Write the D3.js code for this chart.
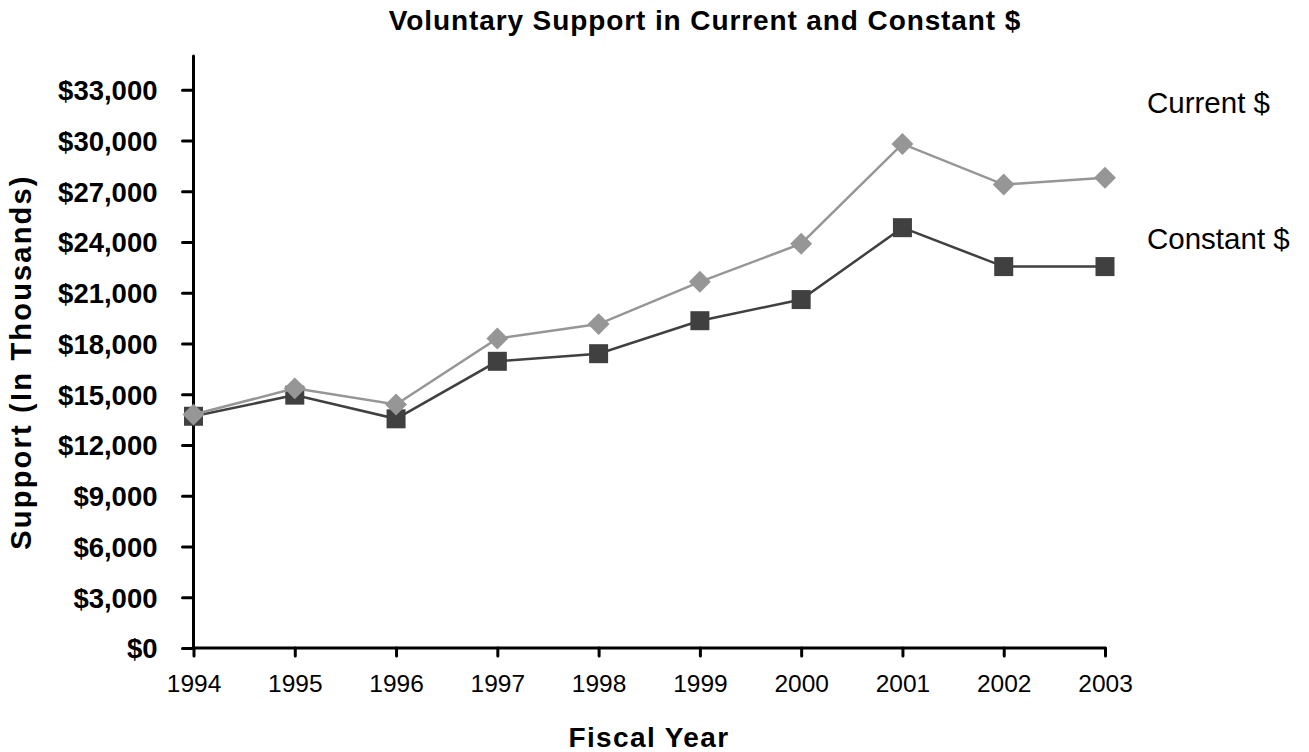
<!DOCTYPE html>
<html>
<head>
<meta charset="utf-8">
<script src="https://cdn.jsdelivr.net/npm/d3@7"></script>
<style>
  html, body { margin: 0; padding: 0; background: #fff; }
  svg { display: block; }
  text { font-family: "Liberation Sans", Arial, sans-serif; fill: #000; }
</style>
</head>
<body>
<svg id="chart" width="1309" height="752"></svg>
<script>
const years = [1994, 1995, 1996, 1997, 1998, 1999, 2000, 2001, 2002, 2003];
const currentDollars = [13800, 15350, 14400, 18300, 19150, 21650, 23900, 29800, 27400, 27800];
const constantDollars = [13700, 14950, 13550, 16950, 17400, 19350, 20600, 24850, 22550, 22550];
const yTicks = [0, 3000, 6000, 9000, 12000, 15000, 18000, 21000, 24000, 27000, 30000, 33000];
const seriesNames = ["Current $", "Constant $"];
const titleText = "Voluntary Support in Current and Constant $";
const xTitle = "Fiscal Year";
const yTitle = "Support (In Thousands)";

const svg = d3.select("#chart");
const x = d3.scaleLinear().domain([1994, 2003]).range([193.5, 1105]);
const y = d3.scaleLinear().domain([0, 35000]).range([648, 56]);

// Title
svg.append("text")
  .attr("x", 705).attr("y", 30)
  .attr("text-anchor", "middle")
  .style("font-size", "28px").style("font-weight", "bold").style("letter-spacing", "0.9px")
  .text(titleText);

// Y axis
const yAxis = svg.append("g").attr("transform", "translate(193.5,0)")
  .call(d3.axisLeft(y).tickValues(yTicks).tickSize(11).tickPadding(25)
    .tickFormat(d => "$" + d3.format(",")(d)));
yAxis.select(".domain").remove();
yAxis.append("line").attr("x1", 0).attr("x2", 0).attr("y1", y(35000)).attr("y2", y(0))
  .attr("stroke", "#000").attr("stroke-width", 3).attr("stroke-linecap", "round");
yAxis.selectAll(".tick line").attr("stroke", "#000").attr("stroke-width", 3).attr("stroke-linecap", "round");
yAxis.selectAll(".tick text")
  .attr("fill", "#000")
  .style("font-family", "'Liberation Sans', Arial, sans-serif")
  .style("font-size", "27.5px").style("font-weight", "bold")
  .attr("dy", "0.36em");

// X axis
const xAxis = svg.append("g").attr("transform", "translate(0," + y(0) + ")")
  .call(d3.axisBottom(x).tickValues(years).tickSize(8).tickPadding(19).tickFormat(d3.format("d")));
xAxis.select(".domain").remove();
xAxis.append("line").attr("x1", x(1994)).attr("x2", x(2003)).attr("y1", 0).attr("y2", 0)
  .attr("stroke", "#000").attr("stroke-width", 3).attr("stroke-linecap", "round");
xAxis.selectAll(".tick line").attr("stroke", "#000").attr("stroke-width", 3).attr("stroke-linecap", "round");
xAxis.selectAll(".tick text")
  .attr("fill", "#000")
  .style("font-family", "'Liberation Sans', Arial, sans-serif")
  .style("font-size", "24.5px");

// Axis titles
svg.append("text")
  .attr("x", 649).attr("y", 747)
  .attr("text-anchor", "middle")
  .style("font-size", "28px").style("font-weight", "bold").style("letter-spacing", "1.4px")
  .text(xTitle);
svg.append("text")
  .attr("transform", "translate(31,362) rotate(-90)")
  .attr("text-anchor", "middle")
  .style("font-size", "29px").style("font-weight", "bold").style("letter-spacing", "2.2px")
  .text(yTitle);

// Series
const data = years.map((yr, i) => ({ yr, cur: currentDollars[i], con: constantDollars[i] }));

const lineCon = d3.line().x(d => x(d.yr)).y(d => y(d.con));
const lineCur = d3.line().x(d => x(d.yr)).y(d => y(d.cur));

svg.append("path").datum(data).attr("d", lineCon)
  .attr("fill", "none").attr("stroke", "#404040").attr("stroke-width", 2.5);
svg.append("g").selectAll("rect").data(data).join("rect")
  .attr("x", d => x(d.yr) - 9.5).attr("y", d => y(d.con) - 9.5)
  .attr("width", 19).attr("height", 19)
  .attr("fill", "#404040");

svg.append("path").datum(data).attr("d", lineCur)
  .attr("fill", "none").attr("stroke", "#969696").attr("stroke-width", 2.5);
const diamond = d3.symbol().type(d3.symbolSquare).size(240);
svg.append("g").selectAll("path").data(data).join("path")
  .attr("d", diamond())
  .attr("transform", d => `translate(${x(d.yr)},${y(d.cur)}) rotate(45)`)
  .attr("fill", "#969696");

// Legend labels
svg.append("text").attr("x", 1147).attr("y", 113)
  .style("font-size", "29.5px").text(seriesNames[0]);
svg.append("text").attr("x", 1147).attr("y", 249)
  .style("font-size", "29.5px").text(seriesNames[1]);
</script>
</body>
</html>
